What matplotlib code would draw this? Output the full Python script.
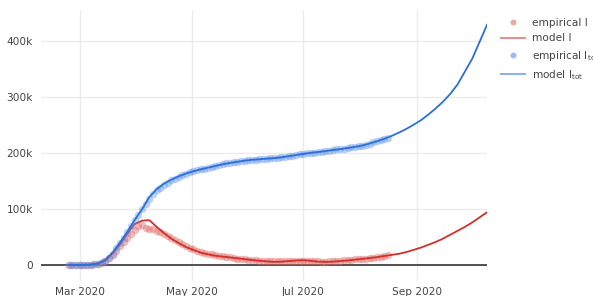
import numpy as np
import matplotlib
matplotlib.use('Agg')
import matplotlib.pyplot as plt

plt.rcParams['font.family'] = ['DejaVu Sans']
plt.rcParams['mathtext.fontset'] = 'dejavusans'

# empirical data, every 2 days from 2020-02-24 to 2020-08-16 (values in thousands)
emp_start = np.datetime64('2020-02-24')
emp_I = [0, 0, 0, 0.1, 0.2, 0.4, 0.7, 1, 2, 4,
         7, 12, 18, 25, 33, 41, 49, 56, 63, 69,
         72, 66, 64, 65, 61, 58, 55, 52, 48, 45,
         41, 37, 34, 31, 28, 25, 23, 21.5, 20, 19,
         17.5, 16.5, 15.5, 14.5, 13.5, 12.5, 11.5, 11, 10, 9.5,
         9, 8.5, 8, 7.5, 7, 6.5, 6.5, 6.5, 7, 7,
         7.5, 7.5, 8, 8, 8, 7.5, 7, 6.5, 6.5, 6,
         6, 6.5, 7, 7.5, 8, 8.5, 9, 9.5, 10, 10.5,
         11, 11.5, 12, 13, 14, 15, 16, 17]
emp_Itot = [0, 0, 0, 0.1, 0.2, 0.4, 0.8, 1.2, 2.5, 4.5,
            8, 13, 20, 30, 39, 48, 58, 70, 80, 90,
            99, 108, 117, 126, 133, 138, 143, 147, 151, 154,
            157, 160, 162.5, 165, 167, 169, 170.5, 172, 173.5, 175,
            176.5, 178, 179.5, 181, 182, 183, 184, 185, 186, 186.5,
            187.5, 188, 188.5, 189, 189.5, 190, 190.5, 191.5, 192, 193,
            194, 195, 196, 197, 198, 199, 200, 200.5, 201.5, 202,
            203, 204, 205, 206, 206.5, 207.5, 208.5, 209.5, 210.5, 211.5,
            213, 214.5, 216.5, 218.5, 220.5, 222.5, 225, 227]

# model curves, every 4 days from 2020-02-24 to 2020-10-09 (thousands)
mod_start = np.datetime64('2020-02-24')
mod_I = [0, 0.1, 0.3, 0.8, 2.5, 8, 21, 37, 56, 73,
         79, 80, 68, 57, 47, 39, 32, 27, 22, 19,
         16.5, 15, 13.5, 12, 10.5, 9, 7.5, 6.5, 5.5, 6,
         7, 8, 8.5, 7.5, 6, 5.5, 6, 7, 8, 9.5,
         11, 12.5, 14, 16, 18, 20, 23, 27, 31, 36,
         41, 47, 54, 61, 68, 76, 85, 94]
mod_Itot = [0, 0.1, 0.3, 0.8, 2.5, 9, 22, 40, 59, 80,
            99, 121, 135, 145, 152, 158, 163, 167, 170.5, 173.5,
            176.5, 179.5, 182, 184, 186, 187.5, 188.5, 189.5, 190.5, 192,
            194, 196, 198, 200, 201.5, 203, 205, 206.5, 208.5, 210.5,
            213, 216.5, 220.5, 225, 230, 236, 242.5, 250, 258, 268,
            279, 291, 305, 322, 345, 368, 398, 428]

emp_dates = emp_start + np.arange(len(emp_I)) * 2
mod_dates = mod_start + np.arange(len(mod_I)) * 4

fig = plt.figure(figsize=(5.93, 2.96), dpi=100)
ax = fig.add_axes([41/593, 15/296, 446/593, 271/296])

ax.plot(emp_dates, np.array(emp_I) * 1e3, 'o', color='#e06c66', alpha=0.45,
        markersize=5.4, markeredgewidth=0, label='empirical I')
ax.plot(mod_dates, np.array(mod_I) * 1e3, '-', color='#d0312d', lw=1.3,
        label='model I')
ax.plot(emp_dates, np.array(emp_Itot) * 1e3, 'o', color='#5b8fe6', alpha=0.4,
        markersize=5.4, markeredgewidth=0, label='empirical I$_{\\mathrm{tot}}$')
ax.plot(mod_dates, np.array(mod_Itot) * 1e3, '-', color='#2b6fdc', lw=1.3,
        label='model I$_{\\mathrm{tot}}$')

ax.axhline(0, color='#444444', lw=1.3, zorder=1)

ax.set_xlim(np.datetime64('2020-02-09'), mod_dates[-1])
ax.set_ylim(-28.5e3, 454.5e3)

yt = [0, 100e3, 200e3, 300e3, 400e3]
ax.set_yticks(yt)
ax.set_yticklabels(['0', '100k', '200k', '300k', '400k'])
xt = [np.datetime64('2020-03-01'), np.datetime64('2020-05-01'),
      np.datetime64('2020-07-01'), np.datetime64('2020-09-01')]
ax.set_xticks(xt)
ax.set_xticklabels(['Mar 2020', 'May 2020', 'Jul 2020', 'Sep 2020'])

ax.grid(True, color='#ebebeb', lw=1)
ax.set_axisbelow(True)
for s in ax.spines.values():
    s.set_visible(False)
ax.tick_params(length=0, labelsize=7.6, labelcolor='#444444')
ax.tick_params(axis='y', pad=6)
ax.tick_params(axis='x', pad=4)

leg = fig.legend(loc='upper left', bbox_to_anchor=(501/593, 1 - 18/296),
                 frameon=False, fontsize=7.6, handlelength=2.3,
                 handletextpad=0.6, labelspacing=0.5, borderpad=0,
                 borderaxespad=0, markerscale=0.8)
for h in leg.legend_handles:
    h.set_alpha(0.6)
for t in leg.get_texts():
    t.set_color('#444444')

fig.savefig('out.png', dpi=100)
